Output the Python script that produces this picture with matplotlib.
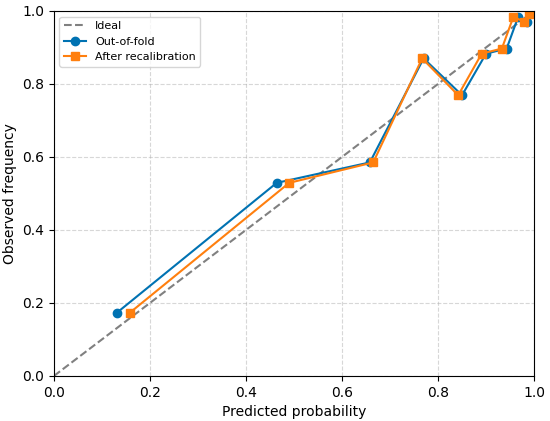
import matplotlib.pyplot as plt

# 校准曲线数据
oof_pred = [0.131, 0.464, 0.658, 0.770, 0.850, 0.900, 0.943, 0.967, 0.986, 0.998]
oof_obs = [0.173, 0.529, 0.585, 0.870, 0.769, 0.883, 0.897, 0.984, 0.970, 0.997]
recal_pred = [0.158, 0.490, 0.665, 0.767, 0.842, 0.891, 0.933, 0.957, 0.980, 0.990]
recal_obs = [0.173, 0.529, 0.585, 0.870, 0.769, 0.883, 0.897, 0.984, 0.970, 0.993]

fig = plt.figure(figsize=(5.5, 4.21), dpi=100)
ax = fig.add_axes([0.098, 0.107, 0.873, 0.867])

ax.plot([0, 1], [0, 1], "--", color="gray", label="Ideal")
ax.plot(oof_pred, oof_obs, "-o", color="#0072B2", markersize=6, label="Out-of-fold")
ax.plot(recal_pred, recal_obs, "-s", color="#ff7f0e", markersize=6, label="After recalibration")

ax.set_xlim(0, 1)
ax.set_ylim(0, 1)
ax.set_xlabel("Predicted probability")
ax.set_ylabel("Observed frequency")
ax.grid(True, linestyle="--", alpha=0.5)
ax.legend(loc="upper left", fontsize=8)

fig.savefig("out.png", dpi=100)
